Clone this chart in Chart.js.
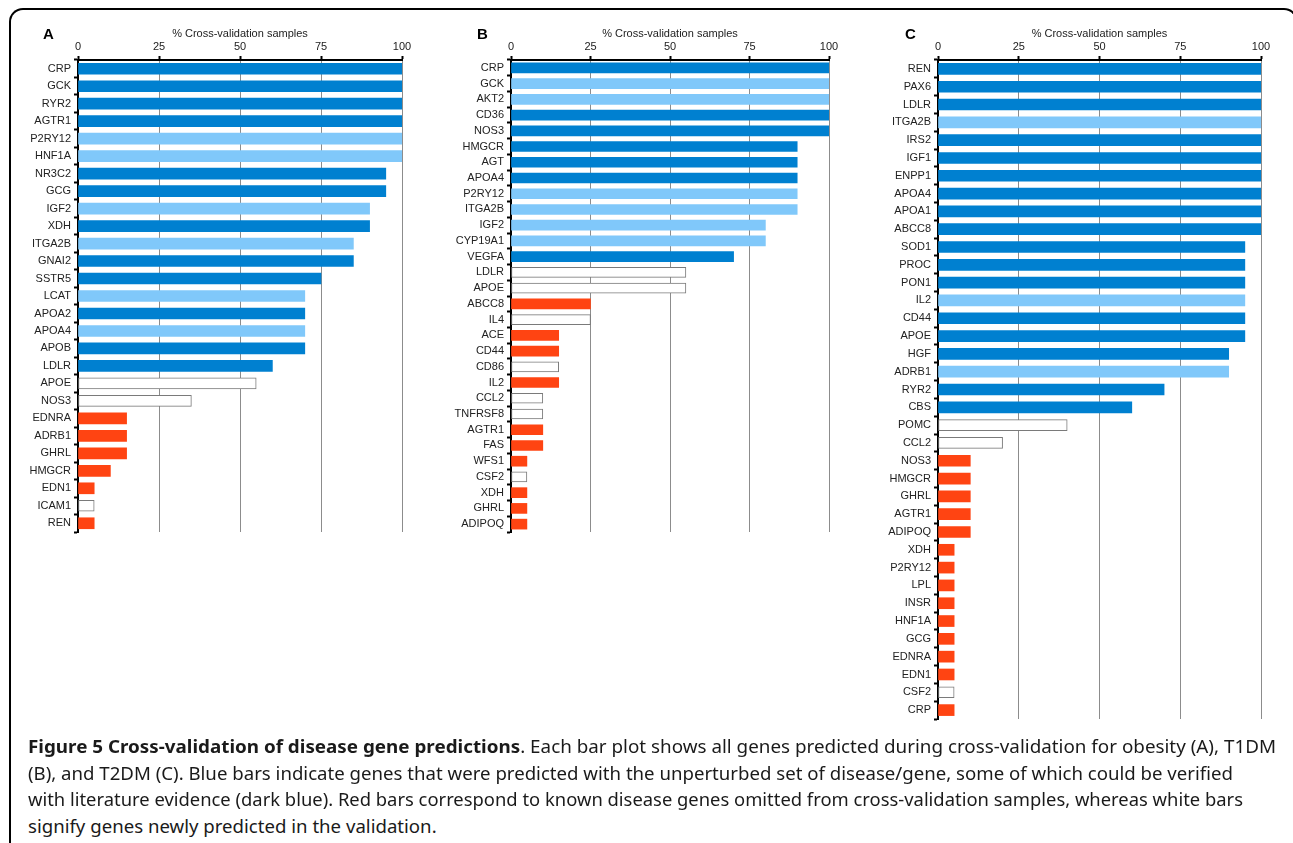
<!DOCTYPE html>
<html>
<head>
<meta charset="utf-8">
<title>Cross-validation of disease gene predictions</title>
<script src="https://cdn.jsdelivr.net/npm/chart.js@4.4.1/dist/chart.umd.min.js"></script>
<style>
  html, body { margin: 0; padding: 0; background: #fff; }
  body { width: 1293px; height: 843px; overflow: hidden; position: relative; }
  .frame {
    position: absolute; left: 9px; top: 8px; width: 1289px; height: 900px;
    border: 2px solid #000; border-bottom: none; border-radius: 14px 14px 0 0;
    box-sizing: border-box;
  }
  canvas { position: absolute; top: 0; }
  .letter {
    position: absolute; top: 26px; font: bold 15px/15px "Liberation Sans", Arial, sans-serif; color: #000;
  }
  .cap {
    position: absolute; left: 28px; white-space: nowrap;
    font: 18.5px/26.5px "Noto Sans", "Open Sans", sans-serif; color: #1a1a1a;
    transform-origin: 0 0;
  }
  .cap b { font-weight: bold; }
</style>
</head>
<body>
<div class="frame"></div>

<canvas id="chartA" width="440" height="545" style="left:0px"></canvas>
<canvas id="chartB" width="420" height="545" style="left:440px"></canvas>
<canvas id="chartC" width="433" height="735" style="left:860px"></canvas>

<div class="letter" style="left:43px">A</div>
<div class="letter" style="left:477px">B</div>
<div class="letter" style="left:905px">C</div>

<div class="cap" style="top:733px" data-w="1248"><b>Figure 5 Cross-validation of disease gene predictions</b>. Each bar plot shows all genes predicted during cross-validation for obesity (A), T1DM</div>
<div class="cap" style="top:759.5px" data-w="1205">(B), and T2DM (C). Blue bars indicate genes that were predicted with the unperturbed set of disease/gene, some of which could be verified</div>
<div class="cap" style="top:786px" data-w="1215">with literature evidence (dark blue). Red bars correspond to known disease genes omitted from cross-validation samples, whereas white bars</div>
<div class="cap" style="top:812.5px">signify genes newly predicted in the validation.</div>

<script>
// Gene classes: verified = predicted and backed by literature, predicted = predicted
// with the unperturbed set, omitted = known gene left out of the sample, novel = newly predicted.

// (A) Obesity
const genesA = ['CRP','GCK','RYR2','AGTR1','P2RY12','HNF1A','NR3C2','GCG','IGF2','XDH',
  'ITGA2B','GNAI2','SSTR5','LCAT','APOA2','APOA4','APOB','LDLR','APOE','NOS3',
  'EDNRA','ADRB1','GHRL','HMGCR','EDN1','ICAM1','REN'];
const valuesA = [100,100,100,100,100,100,95,95,90,90,
  85,85,75,70,70,70,70,60,55,35,
  15,15,15,10,5,5,5];
const classesA = ['verified','verified','verified','verified','predicted','predicted','verified','verified','predicted','verified',
  'predicted','verified','verified','predicted','verified','predicted','verified','verified','novel','novel',
  'omitted','omitted','omitted','omitted','omitted','novel','omitted'];

// (B) T1DM
const genesB = ['CRP','GCK','AKT2','CD36','NOS3','HMGCR','AGT','APOA4','P2RY12','ITGA2B',
  'IGF2','CYP19A1','VEGFA','LDLR','APOE','ABCC8','IL4','ACE','CD44','CD86',
  'IL2','CCL2','TNFRSF8','AGTR1','FAS','WFS1','CSF2','XDH','GHRL','ADIPOQ'];
const valuesB = [100,100,100,100,100,90,90,90,90,90,
  80,80,70,55,55,25,25,15,15,15,
  15,10,10,10,10,5,5,5,5,5];
const classesB = ['verified','predicted','predicted','verified','verified','verified','verified','verified','predicted','predicted',
  'predicted','predicted','verified','novel','novel','omitted','novel','omitted','omitted','novel',
  'omitted','novel','novel','omitted','omitted','omitted','novel','omitted','omitted','omitted'];

// (C) T2DM
const genesC = ['REN','PAX6','LDLR','ITGA2B','IRS2','IGF1','ENPP1','APOA4','APOA1','ABCC8',
  'SOD1','PROC','PON1','IL2','CD44','APOE','HGF','ADRB1','RYR2','CBS',
  'POMC','CCL2','NOS3','HMGCR','GHRL','AGTR1','ADIPOQ','XDH','P2RY12','LPL',
  'INSR','HNF1A','GCG','EDNRA','EDN1','CSF2','CRP'];
const valuesC = [100,100,100,100,100,100,100,100,100,100,
  95,95,95,95,95,95,90,90,70,60,
  40,20,10,10,10,10,10,5,5,5,
  5,5,5,5,5,5,5];
const classesC = ['verified','verified','verified','predicted','verified','verified','verified','verified','verified','verified',
  'verified','verified','verified','predicted','verified','verified','verified','predicted','verified','verified',
  'novel','novel','omitted','omitted','omitted','omitted','omitted','omitted','omitted','omitted',
  'omitted','omitted','omitted','omitted','omitted','novel','omitted'];

const xTicks = [0, 25, 50, 75, 100];
const axisTitle = '% Cross-validation samples';

const FILL = { verified: '#0080d0', predicted: '#80c8fa', omitted: '#ff4412', novel: '#ffffff' };
const FONT = '"Liberation Sans", Arial, sans-serif';

function panel(id, genes, values, classes, geo) {
  return new Chart(document.getElementById(id), {
    type: 'bar',
    data: {
      labels: genes,
      datasets: [{
        data: values,
        backgroundColor: classes.map(c => FILL[c]),
        borderColor: classes.map(c => c === 'novel' ? '#7a7a7a' : 'rgba(0,0,0,0)'),
        borderWidth: classes.map(c => c === 'novel' ? 1 : 0),
        borderSkipped: false,
        barThickness: geo.bar
      }]
    },
    options: {
      indexAxis: 'y',
      responsive: false,
      animation: false,
      devicePixelRatio: 1,
      layout: { padding: { left: 0, top: 0, right: geo.padRight, bottom: geo.padBottom } },
      plugins: { legend: { display: false }, tooltip: { enabled: false } },
      scales: {
        x: {
          position: 'top',
          min: 0, max: 100,
          afterBuildTicks: s => { s.ticks = xTicks.map(v => ({ value: v })); },
          ticks: { font: { family: FONT, size: 11 }, color: '#222', padding: 2, maxRotation: 0 },
          grid: { color: '#8c8c8c', lineWidth: 1, tickColor: '#000', tickLength: 4, tickWidth: 2 },
          border: { color: '#000', width: 2 },
          title: { display: true, text: axisTitle, color: '#222',
                   font: { family: FONT, size: 11 }, padding: { top: 27, bottom: 0 } },
          afterFit: s => { s.height = 60; }
        },
        y: {
          ticks: { font: { family: FONT, size: 11 }, color: '#222', padding: 3, autoSkip: false },
          grid: { drawOnChartArea: false, offset: true, tickLength: 4, tickColor: '#000', tickWidth: 2 },
          border: { color: '#000', width: 2 },
          afterFit: s => { s.width = geo.axisW; }
        }
      }
    }
  });
}

panel('chartA', genesA, valuesA, classesA, { axisW: 78, padRight: 38, padBottom: 13, bar: 11 });
panel('chartB', genesB, valuesB, classesB, { axisW: 71, padRight: 31, padBottom: 13, bar: 10 });
panel('chartC', genesC, valuesC, classesC, { axisW: 78, padRight: 32, padBottom: 16, bar: 11 });

// Fit each caption line to its set width; the last line takes the mean scale.
function fitCaption() {
  const lines = Array.from(document.querySelectorAll('.cap'));
  const scales = [];
  lines.forEach(el => {
    el.style.transform = 'none';
    const target = parseFloat(el.dataset.w || '0');
    const w = el.getBoundingClientRect().width;
    if (target && w > 0) {
      const s = target / w;
      scales.push(s);
      el.style.transform = 'scaleX(' + s + ')';
    }
  });
  const mean = scales.reduce((a, b) => a + b, 0) / (scales.length || 1);
  lines.forEach(el => { if (!el.dataset.w) el.style.transform = 'scaleX(' + mean + ')'; });
}
fitCaption();
if (document.fonts && document.fonts.ready) document.fonts.ready.then(fitCaption);
</script>
</body>
</html>
